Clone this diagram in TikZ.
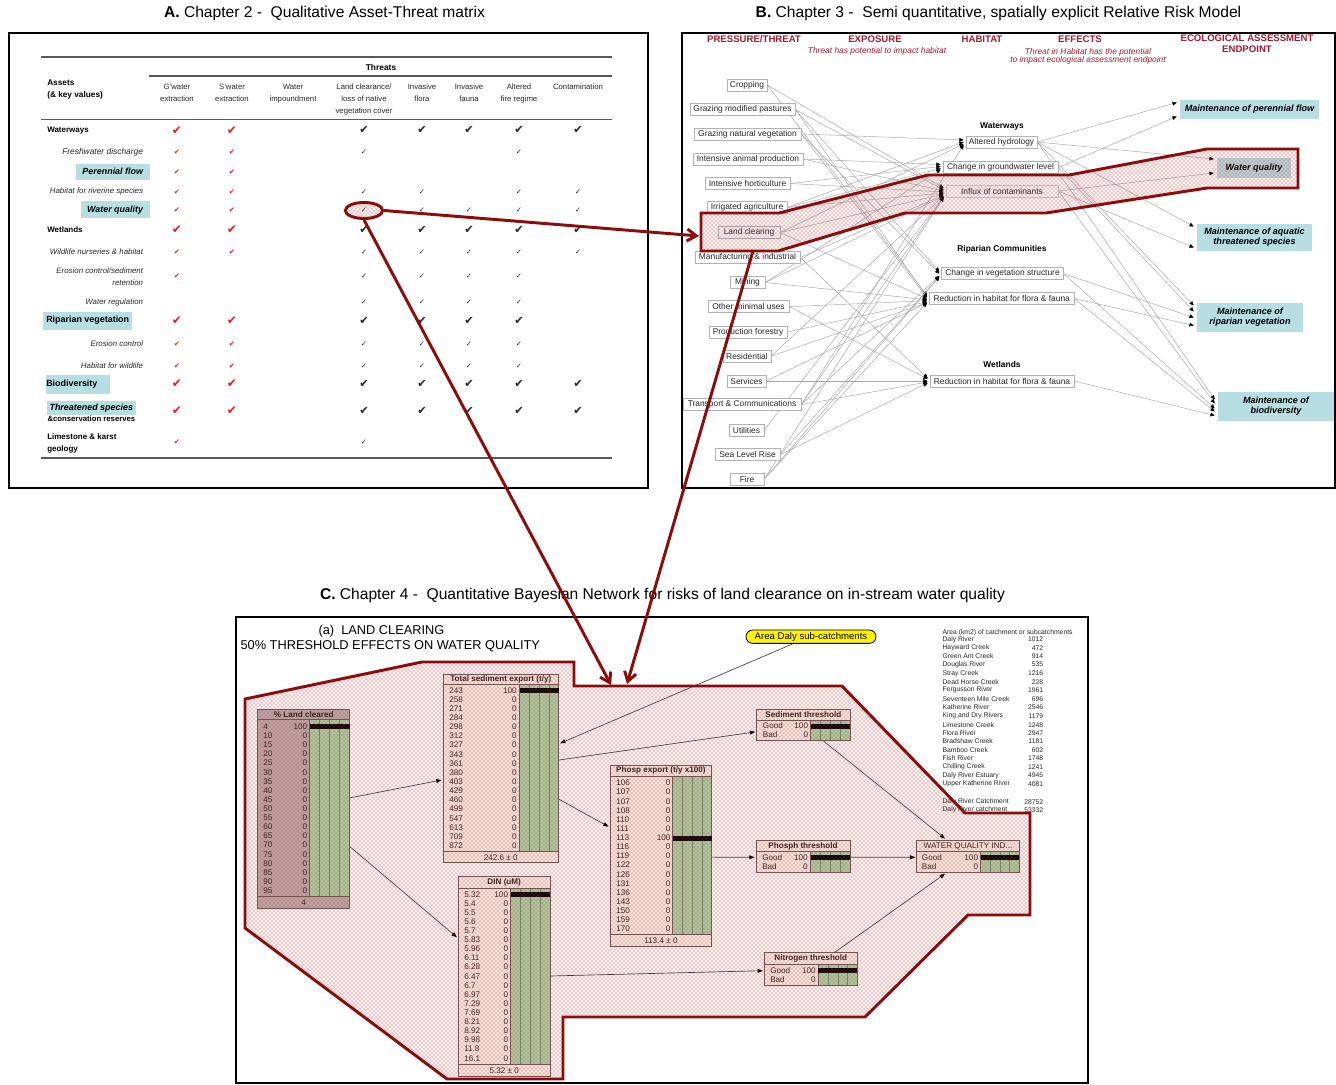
\documentclass[tikz,border=0pt]{standalone}
\usepackage{fontspec}
\setmainfont{Liberation Sans}
\newfontfamily\djv{DejaVu Sans}
\usetikzlibrary{arrows.meta,patterns,calc,fit,shapes.geometric}
\definecolor{dred}{RGB}{140,12,12}
\definecolor{tealbx}{RGB}{183,222,226}
\definecolor{bngreen}{RGB}{168,214,168}
\definecolor{bngrid}{RGB}{110,145,110}
\definecolor{bnbeige}{RGB}{252,242,234}
\definecolor{bngray}{RGB}{186,175,175}
\definecolor{bnline}{RGB}{105,90,90}
\definecolor{chkred}{RGB}{238,24,24}
\definecolor{hdrred}{RGB}{160,28,48}
\definecolor{dotred}{RGB}{200,50,50}
\newcommand{\fsz}[1]{\fontsize{#1}{#1}\selectfont}
\newcommand{\fszl}[2]{\fontsize{#1}{#2}\selectfont}
\pgfdeclarelayer{bg}
\pgfsetlayers{bg,main}
% name, x1, ytop, x2, ybottom, ytitleline, yfooterline, barx, fill
\newcommand{\bnbase}[9]{%
  \fill[#9] (#2,#3) rectangle (#4,#5);
  \fill[bngreen] (#8,#6) rectangle (#4,#7);
  \pgfmathsetmacro{\bnbw}{(#4-#8)/4}
  \foreach \k in {1,2,3} {\draw[bngrid, line width=0.4pt] ({#8+\k*\bnbw},#6) -- ({#8+\k*\bnbw},#7);}
  \draw[bnline, line width=0.5pt] (#8,#6) -- (#8,#7);
  \draw[bnline, line width=0.5pt] (#2,#6) -- (#4,#6);
  \draw[bnline, line width=0.5pt] (#2,#7) -- (#4,#7);
  \node[fit={(#2,#3) (#4,#5)}, inner sep=0pt, draw=bnline, line width=0.6pt] (#1) {};
}
\tikzset{
  ttl/.style={font=\fsz{11.7}, inner sep=0pt},
  colhdr/.style={font=\fszl{5.8}{9}, align=center, anchor=north, inner sep=0pt, text=black!85},
  mainrow/.style={font=\fsz{6}\bfseries, anchor=west, inner sep=0pt},
  subrow/.style={font=\fsz{5.9}\itshape, anchor=east, inner sep=0pt, text=black!85},
  rchk/.style={text=chkred, font={\djv\fsz{#1}}, inner sep=0pt},
  kchk/.style={text=black!85, font={\djv\fsz{#1}}, inner sep=0pt},
  thr/.style={draw=black!30, line width=0.5pt, fill=white, font=\fsz{6.3}, inner sep=0pt, minimum height=9pt, text=black!85},
  grp/.style={font=\fsz{6.3}\bfseries, inner sep=0pt},
  endp/.style={fill=tealbx, font=\fszl{6.8}{7.5}\bfseries\itshape, align=center, inner sep=0pt},
  bhdr/.style={font=\fsz{7.2}\bfseries, text=hdrred, inner sep=0pt},
  bsub/.style={font=\fsz{6.3}\itshape, text=hdrred, inner sep=0pt, align=center},
  glink/.style={draw=black!35, line width=0.35pt, -{Triangle[length=3.2pt,width=2.8pt,color=black]}},
  bnlink/.style={draw=black!75, line width=0.5pt, -{Triangle[length=4pt,width=3pt,color=black]}},
  redarrow/.style={draw=dred, line width=2.2pt, -{Straight Barb[length=7pt,width=9pt]}},
  dotfill/.style={pattern=crosshatch dots, pattern color=dotred},
  pinkwash/.style={fill=red!70!black, fill opacity=0.045},
  redpoly/.style={draw=dred, line width=2.2pt, line join=miter},
  bnrow/.style={font=\fsz{6.1}, inner sep=0pt, text=black!85},
  bnttl/.style={font=\fsz{6.1}\bfseries, inner sep=0pt, text=black!85},
  lst/.style={font=\fsz{5.1}, inner sep=0pt, text=black!85},
}
\begin{document}
\begin{tikzpicture}[x=0.75pt,y=-0.75pt]
\useasboundingbox (0,0) rectangle (1336,1085);
\begin{pgfonlayer}{bg}
\fill[white] (0,0) rectangle (1336,1085);
\end{pgfonlayer}

% ---------------- Titles
\node[ttl] (titleA) at (324.5,13) {\textbf{A.} Chapter 2 -\ \ Qualitative Asset-Threat matrix};
\node[ttl] (titleB) at (998.5,13) {\textbf{B.} Chapter 3 -\ \ Semi quantitative, spatially explicit Relative Risk Model};
\node[ttl] (titleC) at (662.5,595) {\textbf{C.} Chapter 4 -\ \ Quantitative Bayesian Network for risks of land clearance on in-stream water quality};

% ---------------- Panel A
\draw[line width=1.4pt] (9,33) rectangle (648,488);
\foreach \ya/\xa in {57/41,76/149,119.5/41,458/41} \draw[black!65, line width=0.8pt] (\xa,\ya) -- (612,\ya);
\node[font=\fsz{6.3}\bfseries, inner sep=0pt] (tThreats) at (381,67) {Threats};
\node[font=\fszl{6.2}{9}\bfseries, align=left, anchor=north west, inner sep=0pt] (assets) at (47,79.5) {Assets\\(\& key values)};
\node[colhdr] (hG) at (177,83.5) {G'water\\extraction};
\node[colhdr] (hS) at (232,83.5) {S'water\\extraction};
\node[colhdr] (hW) at (293,83.5) {Water\\impoundment};
\node[colhdr] (hL) at (364,83.5) {Land clearance/\\loss of native\\vegetation cover};
\node[colhdr] (hF) at (422,83.5) {Invasive\\flora};
\node[colhdr] (hA) at (469,83.5) {Invasive\\fauna};
\node[colhdr] (hR) at (519,83.5) {Altered\\fire regime};
\node[colhdr] (hC) at (578,83.5) {Contamination};

\fill[tealbx] (76,164) rectangle (150,180);
\fill[tealbx] (81,201) rectangle (150,218);
\fill[tealbx] (42.7,311.7) rectangle (132,330);
\fill[tealbx] (46,375) rectangle (110,394);
\fill[tealbx] (47.3,400.7) rectangle (136,414.7);

\node[mainrow] (rWW) at (47,130.3) {Waterways};
\node[subrow, font=\fsz{6.3}\itshape] (rFD) at (143.3,152) {Freshwater discharge};
\node[subrow, font=\fsz{6.7}\bfseries\itshape, text=black] (rPF) at (143.3,171.7) {Perennial flow};
\node[subrow] (rHR) at (143.3,191.7) {Habitat for riverine species};
\node[subrow, font=\fsz{6.7}\bfseries\itshape, text=black] (rWQ) at (143.3,210) {Water quality};
\node[mainrow] (rWL) at (47,230) {Wetlands};
\node[subrow] (rWN) at (143.3,252) {Wildlife nurseries \& habitat};
\node[subrow, align=right, font=\fszl{5.9}{9}\itshape] (rEC) at (143.3,276.7) {Erosion control/sediment\\retention};
\node[subrow] (rWR) at (143.3,302) {Water regulation};
\node[mainrow, font=\fsz{6.7}\bfseries] (rRV) at (46,320.7) {Riparian vegetation};
\node[subrow] (rEC2) at (143.3,344) {Erosion control};
\node[subrow] (rHW) at (143.3,365.7) {Habitat for wildlife};
\node[mainrow, font=\fsz{6.7}\bfseries] (rBD) at (46,383.7) {Biodiversity};
\node[mainrow, font=\fsz{6.7}\bfseries\itshape] (rTS) at (49.3,407.7) {Threatened species};
\node[mainrow, font=\fsz{5.8}\bfseries] (rCR) at (47.3,418.7) {\&conservation reserves};
\node[mainrow, align=left, font=\fszl{6}{8.7}\bfseries] (rLK) at (47,443.5) {Limestone \& karst\\geology};

% red checks
\foreach \y/\s [count=\i] in {130.3/9,152/5.5,171.7/5.5,191.7/5.5,210/5.5,230/9,252/5.5,276/5.5,320.7/9,344/5.5,365.7/5.5,383.7/9,410.7/9,441.7/5.5}
  \node[rchk=\s] (rg\i) at (177,\y) {✔};
\foreach \y/\s [count=\i] in {130.3/9,152/5.5,171.7/5.5,191.7/5.5,210/5.5,230/9,252/5.5,320.7/9,344/5.5,365.7/5.5,383.7/9,410.7/9}
  \node[rchk=\s] (rs\i) at (232,\y) {✔};
% black checks
\foreach \x/\y [count=\i] in {364/130.3,422/130.3,469/130.3,519/130.3,578/130.3,
 364/230,422/230,469/230,519/230,578/230,
 364/320.7,422/320.7,469/320.7,519/320.7,
 364/383.7,422/383.7,469/383.7,519/383.7,578/383.7,
 364/410.7,422/410.7,469/410.7,519/410.7,578/410.7}
  \node[kchk=8.5] (kb\i) at (\x,\y) {✔};
\foreach \x/\y [count=\i] in {364/152,519/152,
 364/191.7,422/191.7,519/191.7,578/191.7,
 364/210,422/210,469/210,519/210,578/210,
 364/252,422/252,469/252,519/252,578/252,
 364/276,422/276,469/276,519/276,
 364/302,422/302,469/302,519/302,
 364/344,422/344,469/344,519/344,
 364/365.7,422/365.7,469/365.7,519/365.7,
 364/441.7}
  \node[kchk=5.5] (ks\i) at (\x,\y) {✓};

\fill[pinkwash] (364,210.5) ellipse [x radius=14.5, y radius=6.3];
\node[ellipse, draw=dred, line width=2.2pt, dotfill, minimum width=28pt, minimum height=12pt, inner sep=0pt] (ell) at (364,210.5) {};

% ---------------- Panel B
\draw[line width=1.4pt] (682,33) rectangle (1335,488);
\node[bhdr] (hPT) at (754,39) {PRESSURE/THREAT};
\node[bhdr] (hEX) at (875,39) {EXPOSURE};
\node[bhdr] (hHB) at (982,39) {HABITAT};
\node[bhdr] (hEF) at (1080,39) {EFFECTS};
\node[bhdr, align=center, font=\fszl{7.2}{8}\bfseries] (hEA) at (1247,43.7) {ECOLOGICAL ASSESSMENT\\ENDPOINT};
\node[bsub] (sEX) at (877,51.7) {Threat has potential to impact habitat};
\node[bsub, font=\fszl{6.3}{6.25}\itshape] (sEF) at (1088,56) {Threat in Habitat has the potential\\to impact ecological assessment endpoint};

\node[thr, minimum width=30pt] (t1) at (747,85) {Cropping};
\node[thr, minimum width=78.75pt] (t2) at (742.5,109.5) {Grazing modified pastures};
\node[thr, minimum width=80.25pt] (t3) at (747.5,134) {Grazing natural vegetation};
\node[thr, minimum width=82.5pt] (t4) at (748,159) {Intensive animal production};
\node[thr, minimum width=63.75pt] (t5) at (747.5,183.5) {Intensive horticulture};
\node[thr, minimum width=60pt] (t6) at (747,207.5) {Irrigated agriculture};
\node[thr, minimum width=46.5pt] (t7) at (749,232.5) {Land clearing};
\node[thr, minimum width=78.75pt] (t8) at (747.5,257.5) {Manufacturing \& industrial};
\node[thr, minimum width=26.25pt] (t9) at (747.5,282.5) {Mining};
\node[thr, minimum width=60.75pt] (t10) at (748.5,306.7) {Other minimal uses};
\node[thr, minimum width=58.5pt] (t11) at (748,332) {Production forestry};
\node[thr, minimum width=36pt] (t12) at (747,356) {Residential};
\node[thr, minimum width=29.25pt] (t13) at (746.5,381) {Services};
\node[thr, minimum width=88.5pt] (t14) at (742,404.7) {Transport \& Communications};
\node[thr, minimum width=26.25pt] (t15) at (746.5,430) {Utilities};
\node[thr, minimum width=48.75pt] (t16) at (747.5,454.7) {Sea Level Rise};
\node[thr, minimum width=25.5pt] (t17) at (747,479) {Fire};

\node[grp] (gWW) at (1002,126) {Waterways};
\node[grp] (gRC) at (1002,249) {Riparian Communities};
\node[grp] (gWL) at (1002,364) {Wetlands};
\node[thr, minimum width=53.25pt] (e1) at (1001.5,142) {Altered hydrology};
\node[thr, minimum width=86.25pt] (e2) at (1000.5,167.5) {Change in groundwater level};
\node[thr, minimum width=84pt, draw=black!18] (e3) at (1002,191) {Influx of contaminants};
\node[thr, minimum width=91.2pt] (e4) at (1002.5,273.7) {Change in vegetation structure};
\node[thr, minimum width=108.5pt] (e5) at (1001.7,298.7) {Reduction in habitat for flora \& fauna};
\node[thr, minimum width=108pt] (e6) at (1002,381) {Reduction in habitat for flora \& fauna};

\node[endp, minimum width=104.25pt, minimum height=14.25pt] (p1) at (1249.5,109.5) {Maintenance of perennial flow};
\node[endp, minimum width=55.5pt, minimum height=15pt] (p2) at (1254,168) {Water quality};
\node[endp, minimum width=86.25pt, minimum height=20.25pt] (p3) at (1254.5,237.5) {Maintenance of aquatic\\threatened species};
\node[endp, minimum width=79.5pt, minimum height=21.75pt] (p4) at (1250,317.5) {Maintenance of\\riparian vegetation};
\node[endp, minimum width=87pt, minimum height=21.75pt] (p5) at (1276,406.5) {Maintenance of\\biodiversity};

\begin{pgfonlayer}{bg}
\foreach \a/\b/\o in {t1/e3/-3,t1/e5/-3,t2/e3/-1,t2/e4/-2,t2/e5/-2,t3/e1/-2,t3/e4/0,t3/e5/-1,t4/e2/-3,t4/e3/0,t5/e3/1,t5/e2/-1,t6/e1/0,t6/e2/1,t6/e3/2,t7/e1/2,t7/e3/3,t7/e5/0,t8/e3/4,t8/e6/-3,t9/e2/2,t9/e3/5,t9/e5/1,t10/e5/2,t10/e6/-2,t11/e5/3,t12/e3/5,t12/e5/4,t13/e5/4,t13/e6/0,t14/e1/3,t14/e3/6,t14/e4/2,t14/e6/1,t15/e3/6,t16/e4/3,t16/e6/2,t17/e4/3,t17/e5/4,t17/e3/6}
  \draw[glink] (\a.east) -- ($(\b.west)+(-2,\o)$);
\foreach \a/\b/\o in {e1/p1/-7,e2/p1/7,e1/p2/-9,e3/p2/5,e1/p3/-11,e3/p3/10,e1/p4/-12,e4/p4/0,e5/p4/8,e2/p4/-6,e1/p5/-7,e3/p5/-3,e4/p5/2,e5/p5/5,e6/p5/9}
  \draw[glink] (\a.east) -- ($(\b.west)+(-3,\o)$);
\end{pgfonlayer}

\fill[pinkwash] (701,213) -- (779,213) -- (928,175) -- (1069,175) -- (1207,149) -- (1298,149) -- (1298,188) -- (1207,188) -- (1046,213) -- (905,213) -- (778,251) -- (701,251) -- cycle;
\draw[redpoly, dotfill] (701,213) -- (779,213) -- (928,175) -- (1069,175) -- (1207,149) -- (1298,149) -- (1298,188) -- (1207,188) -- (1046,213) -- (905,213) -- (778,251) -- (701,251) -- cycle;

% ---------------- Panel C
\draw[line width=1.3pt] (236,617) rectangle (1088,1083);
\node[font=\fsz{9.6}, inner sep=0pt] (cT1) at (381.5,630.7) {(a)\ \ LAND CLEARING};
\node[font=\fsz{9.6}, inner sep=0pt, anchor=west] (cT2) at (240.3,646.7) {50\% THRESHOLD EFFECTS ON WATER QUALITY};
\node[draw=black, line width=0.6pt, fill=yellow, rounded corners=5pt, minimum width=97.5pt, minimum height=10pt, font=\fsz{7.2}, inner sep=0pt] (area) at (811,636.7) {Area Daly sub-catchments};

\node[lst, anchor=west] (lhead) at (942.3,632.3) {Area (km2) of catchment or subcatchments};
\foreach \nm/\nv/\y [count=\i] in {Daly River/1012/639.3,Hayward Creek/472/647.7,Green Ant Creek/914/656,Douglas River/535/664.3,Stray Creek/1216/673.3,Dead Horse Creek/228/681.7,Fergusson River/1961/690,Seventeen Mile Creek/696/699,Katherine River/2546/707.3,King and Dry Rivers/1179/716,Limestone Creek/1248/724.7,Flora River/2947/732.7,Bradshaw Creek/1181/741.3,Bamboo Creek/602/750,Fish River/1748/758.3,Chilling Creek/1241/766.7,Daly River Estuary/4945/775.3,Upper Katherine River/4081/784,Daly River Catchment/28752/801.7,Daly River catchment/53332/810}
{\node[lst, anchor=west] (ln\i) at (942.3,\y) {\nm};
 \node[lst, anchor=east] (lv\i) at (1043.5,\y) {\nv};}

% BN node: % Land cleared
\bnbase{lc}{257.7}{709.3}{349.7}{908.3}{719.5}{896.5}{309.7}{bngray}
\node[bnttl] (lc-t) at (303.7,714.4) {\% Land cleared};
\foreach \lab/\val [count=\i] in {4/100,10/0,15/0,20/0,25/0,30/0,35/0,40/0,45/0,50/0,55/0,60/0,65/0,70/0,75/0,80/0,85/0,90/0,95/0}
{\node[bnrow, anchor=west] (lc-l\i) at (263,{726.7+(\i-1)*9.11}) {\lab};
 \node[bnrow, anchor=east] (lc-v\i) at (307.5,{726.7+(\i-1)*9.11}) {\val};}
\fill[black] (309.7,724.2) rectangle (349.7,729.2);
\node[bnrow] (lc-f) at (303.7,902.5) {4};

% Total sediment export
\bnbase{sed}{443}{674.3}{558.7}{862.7}{684.5}{851.5}{519.7}{bnbeige}
\node[bnttl] (sed-t) at (500.8,679.4) {Total sediment export (t/y)};
\foreach \lab/\val [count=\i] in {243/100,258/0,271/0,284/0,298/0,312/0,327/0,343/0,361/0,380/0,403/0,429/0,460/0,499/0,547/0,613/0,709/0,872/0}
{\node[bnrow, anchor=west] (sed-l\i) at (449,{690.3+(\i-1)*9.14}) {\lab};
 \node[bnrow, anchor=east] (sed-v\i) at (517,{690.3+(\i-1)*9.14}) {\val};}
\fill[black] (519.7,687.8) rectangle (558.7,692.8);
\node[bnrow] (sed-f) at (500.8,857.3) {242.6 ± 0};

% DIN
\bnbase{din}{458.3}{876.7}{550}{1076.7}{888.3}{1064.5}{510.7}{bnbeige}
\node[bnttl] (din-t) at (504.2,882.5) {DIN (uM)};
\foreach \lab/\val [count=\i] in {5.32/100,5.4/0,5.5/0,5.6/0,5.7/0,5.83/0,5.96/0,6.11/0,6.28/0,6.47/0,6.7/0,6.97/0,7.29/0,7.69/0,8.21/0,8.92/0,9.98/0,11.8/0,16.1/0}
{\node[bnrow, anchor=west] (din-l\i) at (464,{894.3+(\i-1)*9.11}) {\lab};
 \node[bnrow, anchor=east] (din-v\i) at (508.3,{894.3+(\i-1)*9.11}) {\val};}
\fill[black] (510.7,891.8) rectangle (550,896.8);
\node[bnrow] (din-f) at (504.2,1071) {5.32 ± 0};

% Phosp export
\bnbase{phos}{610}{765}{711.7}{946.7}{776}{934.5}{672.7}{bnbeige}
\node[bnttl] (phos-t) at (660.9,770.5) {Phosp export (t/y x100)};
\foreach \lab/\val [count=\i] in {106/0,107/0,107/0,108/0,110/0,111/0,113/100,116/0,119/0,122/0,126/0,131/0,136/0,143/0,150/0,159/0,170/0}
{\node[bnrow, anchor=west] (phos-l\i) at (616,{783+(\i-1)*9.125}) {\lab};
 \node[bnrow, anchor=east] (phos-v\i) at (670.7,{783+(\i-1)*9.125}) {\val};}
\fill[black] (672.7,836.3) rectangle (711.7,841.3);
\node[bnrow] (phos-f) at (660.9,940.5) {113.4 ± 0};

% Sediment threshold
\bnbase{sedth}{756.7}{709.3}{850}{740.5}{720.5}{740.5}{810.7}{bnbeige}
\node[bnttl] (sedth-t) at (803.3,715) {Sediment threshold};
\node[bnrow, anchor=west] (sedth-l1) at (762.7,726) {Good};
\node[bnrow, anchor=east] (sedth-v1) at (808.3,726) {100};
\node[bnrow, anchor=west] (sedth-l2) at (762.7,735) {Bad};
\node[bnrow, anchor=east] (sedth-v2) at (808.3,735) {0};
\fill[black] (810.7,723.5) rectangle (850,728.5);

% Phosph threshold
\bnbase{phth}{756}{840}{850}{872}{851.7}{872}{810.5}{bnbeige}
\node[bnttl] (phth-t) at (803,846) {Phosph threshold};
\node[bnrow, anchor=west] (phth-l1) at (762,857.3) {Good};
\node[bnrow, anchor=east] (phth-v1) at (808,857.3) {100};
\node[bnrow, anchor=west] (phth-l2) at (762,866.7) {Bad};
\node[bnrow, anchor=east] (phth-v2) at (808,866.7) {0};
\fill[black] (810.5,854.8) rectangle (850,859.8);

% Water quality index
\bnbase{wq}{916.7}{840}{1019.3}{872.3}{851.7}{872.3}{980.7}{bnbeige}
\node[bnrow] (wq-t) at (968,846) {WATER QUALITY IND...};
\node[bnrow, anchor=west] (wq-l1) at (921.7,857.3) {Good};
\node[bnrow, anchor=east] (wq-v1) at (978.3,857.3) {100};
\node[bnrow, anchor=west] (wq-l2) at (921.7,866.7) {Bad};
\node[bnrow, anchor=east] (wq-v2) at (978.3,866.7) {0};
\fill[black] (980.7,854.8) rectangle (1019.3,859.8);

% Nitrogen threshold
\bnbase{nth}{764.3}{952.7}{857.3}{985.7}{964}{985.7}{818.3}{bnbeige}
\node[bnttl] (nth-t) at (810.8,958.5) {Nitrogen threshold};
\node[bnrow, anchor=west] (nth-l1) at (770,970.7) {Good};
\node[bnrow, anchor=east] (nth-v1) at (816,970.7) {100};
\node[bnrow, anchor=west] (nth-l2) at (770,980) {Bad};
\node[bnrow, anchor=east] (nth-v2) at (816,980) {0};
\fill[black] (818.3,968.2) rectangle (857.3,973.2);

% BN links
\draw[bnlink] ($(lc.east)+(0,-11)$) -- ($(sed.west)+(-1,11.5)$);
\draw[bnlink] ($(lc.east)+(0,38)$) -- ($(din.west)+(-1,-39.4)$);
\draw[bnlink] ($(area.south)+(-18,0)$) -- ($(sed.east)+(1,-25.2)$);
\draw[bnlink] ($(sed.east)+(0,-8.5)$) -- ($(sedth.west)+(-1,7)$);
\draw[bnlink] ($(sed.east)+(0,30.8)$) -- ($(phos.west)+(-1,-29.2)$);
\draw[bnlink] ($(phos.east)+(0,1.3)$) -- ($(phth.west)+(-1,1.3)$);
\draw[bnlink] ($(sedth.south)+(20,0)$) -- ($(wq.north)+(-23,-1)$);
\draw[bnlink] ($(phth.east)+(0,1.3)$) -- ($(wq.west)+(-1,1.1)$);
\draw[bnlink] ($(nth.north)+(24,0)$) -- ($(wq.south)+(-23,1)$);
\draw[bnlink] ($(din.east)+(0,-0.7)$) -- ($(nth.west)+(-1,1.5)$);

\fill[pinkwash] (245,699) -- (422,662) -- (574,662) -- (574,686) -- (842,686) -- (965,813) -- (1030,813) -- (1030,915) -- (968,915) -- (865,1017) -- (563,1017) -- (563,1079) -- (447,1079) -- (245,928) -- cycle;
\draw[redpoly, dotfill] (245,699) -- (422,662) -- (574,662) -- (574,686) -- (842,686) -- (965,813) -- (1030,813) -- (1030,915) -- (968,915) -- (865,1017) -- (563,1017) -- (563,1079) -- (447,1079) -- (245,928) -- cycle;

% ---------------- Red connectors
\coordinate (bIn) at (699,236);
\coordinate (bOut) at (753,251);
\coordinate (cIn1) at (611,685);
\coordinate (cIn2) at (627,684);
\draw[redarrow] (ell.east) -- (bIn);
\draw[redarrow] (ell.south) -- (cIn1);
\draw[redarrow] (bOut) -- (cIn2);
\end{tikzpicture}
\end{document}
